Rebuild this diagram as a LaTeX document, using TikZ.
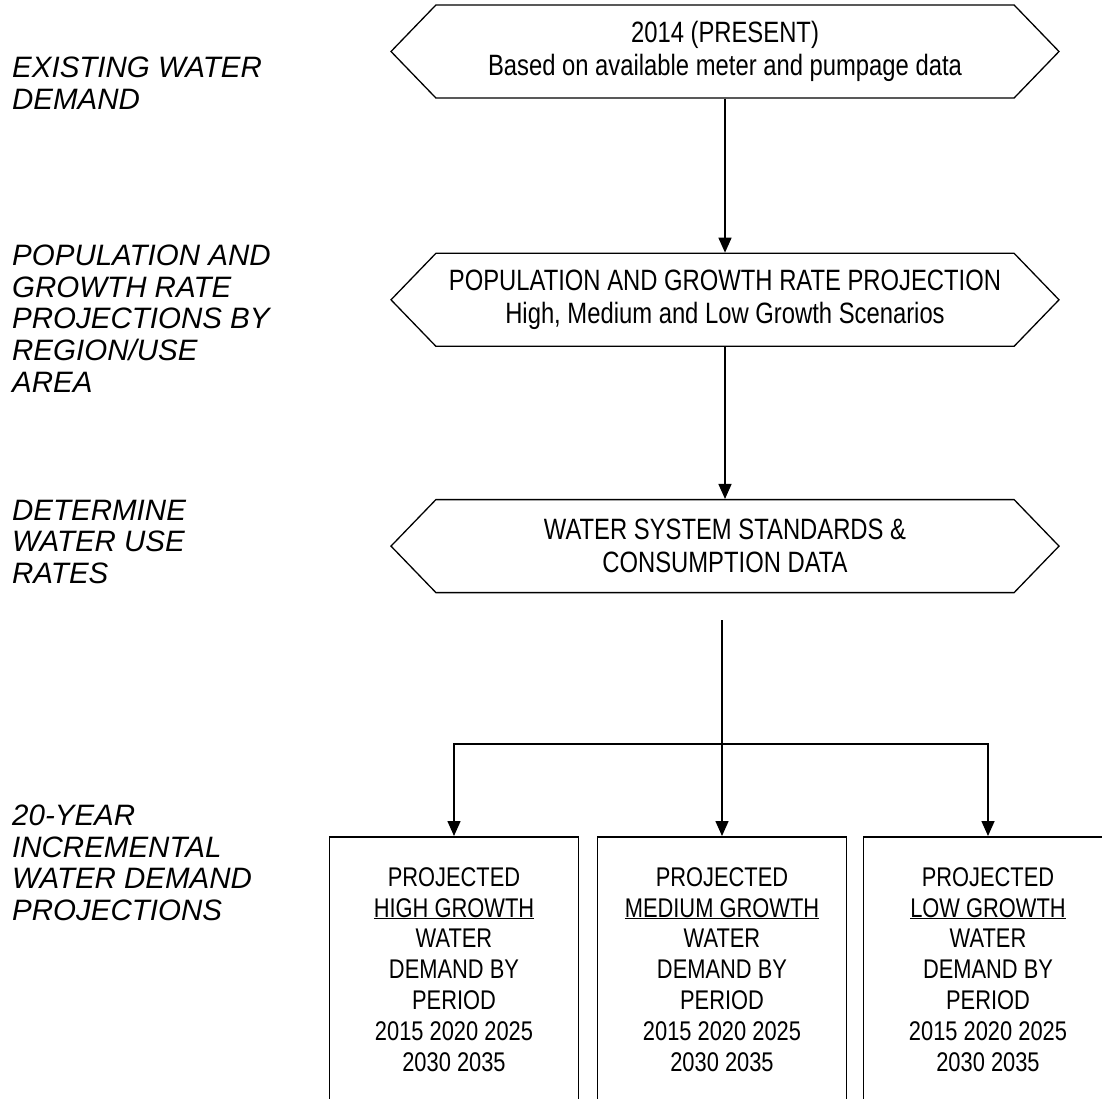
\documentclass[tikz,border=0pt]{standalone}
\usepackage{fontspec}
\setmainfont{Liberation Sans}
\newfontfamily\narrowfont[FakeStretch=0.81]{Liberation Sans}
\usetikzlibrary{arrows.meta,shapes.symbols,positioning}

\tikzset{
  hexbox/.style={signal, signal to=west and east, signal pointer angle=92, draw, line width=1.3pt,
    minimum width=668pt, minimum height=93pt, inner sep=0pt, align=center,
    font=\narrowfont\fontsize{29.4}{33}\selectfont},
  demandbox/.style={draw, line width=1.6pt, minimum width=249pt, minimum height=265pt, anchor=north,
    inner sep=0pt, align=center, font=\narrowfont\fontsize{27}{30.8}\selectfont},
  steplabel/.style={anchor=north west, align=left, inner sep=0pt,
    font=\itshape\fontsize{29.5}{31.8}\selectfont},
  flow/.style={line width=1.5pt, -{Triangle[width=13pt,length=15pt]}},
}

\begin{document}
\begin{tikzpicture}[x=1pt,y=-1pt]
\useasboundingbox (0,0) rectangle (1102,1098);
\clip (0,0) rectangle (1102,1098);

% stages on the left
\node[steplabel] (existing) at (12,57) {EXISTING WATER\\DEMAND};
\node[steplabel] (population) at (12,244.5) {POPULATION AND\\GROWTH RATE\\PROJECTIONS BY\\REGION/USE\\AREA};
\node[steplabel] (rates) at (12,499.5) {DETERMINE\\WATER USE\\RATES};
\node[steplabel] (increment) at (12,804.5) {20-YEAR\\INCREMENTAL\\WATER DEMAND\\PROJECTIONS};

% flow chart
\node[hexbox] (present) at (725,51.5) {2014 (PRESENT)\\Based on available meter and pumpage data};
\node[hexbox, below=154pt of present] (growth) {POPULATION AND GROWTH RATE PROJECTION\\High, Medium and Low Growth Scenarios};
\node[hexbox, below=152pt of growth] (standards) {WATER SYSTEM STANDARDS \&\\CONSUMPTION DATA};

\node[demandbox] (high) at (454,836) {PROJECTED\\\underline{HIGH GROWTH}\\WATER\\DEMAND BY\\PERIOD\\2015 2020 2025\\2030 2035};
\node[demandbox] (medium) at (722,836) {PROJECTED\\\underline{MEDIUM GROWTH}\\WATER\\DEMAND BY\\PERIOD\\2015 2020 2025\\2030 2035};
\node[demandbox] (low) at (988,836) {PROJECTED\\\underline{LOW GROWTH}\\WATER\\DEMAND BY\\PERIOD\\2015 2020 2025\\2030 2035};

\coordinate (feed) at (722,620);
\coordinate (split) at (722,744);

\draw[flow] (present.south) -- (growth.north);
\draw[flow] (growth.south) -- (standards.north);
\draw[flow] (feed) -- (medium.north);
\draw[flow] (split) -| (high.north);
\draw[flow] (split) -| (low.north);
\end{tikzpicture}
\end{document}
